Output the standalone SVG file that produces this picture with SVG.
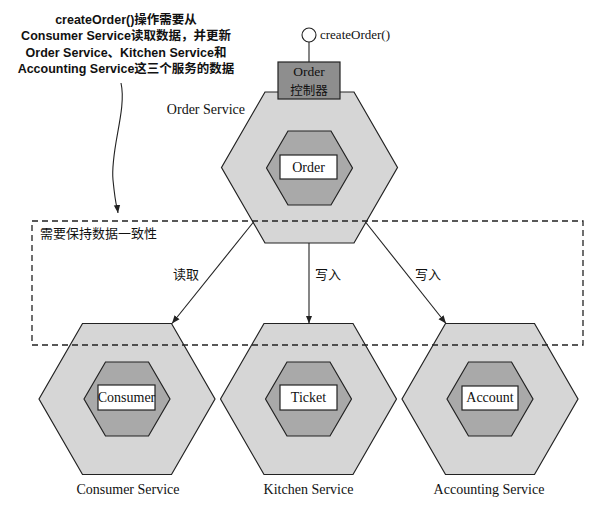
<svg xmlns="http://www.w3.org/2000/svg" xmlns:xlink="http://www.w3.org/1999/xlink" width="604" height="507" viewBox="0 0 604 507">
<style>
.outer{fill:#d6d6d6;stroke:#222;stroke-width:1.2}
.inner{fill:#a9a9a9;stroke:#222;stroke-width:1.2}
.box{fill:#fff;stroke:#222;stroke-width:1.2}
.ctrl{fill:#8e8e8e;stroke:#222;stroke-width:1.2}
.serif{font-family:"Liberation Serif","Noto Sans CJK SC",serif;fill:#111}
.cjk{font-family:"Noto Sans CJK SC",sans-serif;fill:#111}
.note{font-family:"Liberation Sans","Noto Sans CJK SC",sans-serif;font-weight:bold;font-size:12.5px;fill:#111}
.edge{fill:none;stroke:#222;stroke-width:1.1}
.dash{fill:none;stroke:#222;stroke-width:1.3;stroke-dasharray:6 4}
</style>
<defs>
<polygon id="hexO" points="-88,0 -44.5,-75.5 44.5,-75.5 88,0 44.5,75.5 -44.5,75.5"/>
<polygon id="hexI" points="-43,0 -21.5,-37 21.5,-37 43,0 21.5,37 -21.5,37"/>
<marker id="arr" viewBox="0 0 10 10" refX="10" refY="5" markerWidth="8" markerHeight="8" orient="auto" markerUnits="userSpaceOnUse">
<path d="M0,1 L10,5 L0,9 Z" fill="#222"/>
</marker>
</defs>
<rect width="604" height="507" fill="#fff"/>

<g id="note">
<text class="note" text-anchor="middle" x="126" y="24">createOrder()操作需要从</text>
<text class="note" text-anchor="middle" x="126" y="40">Consumer Service读取数据，并更新</text>
<text class="note" text-anchor="middle" x="126" y="57">Order Service、Kitchen Service和</text>
<text class="note" text-anchor="middle" x="126" y="73">Accounting Service这三个服务的数据</text>
</g>

<g id="order-service">
<use xlink:href="#hexO" class="outer" transform="translate(309.5,167.5)"/>
<use xlink:href="#hexI" class="inner" transform="translate(309.5,168)"/>
<rect class="box" x="280" y="155" width="57" height="24"/>
<text class="serif" font-size="14" text-anchor="middle" x="308.5" y="172">Order</text>
<text class="serif" font-size="14" text-anchor="end" x="245" y="114">Order Service</text>
</g>

<g id="order-controller">
<line x1="309" y1="42" x2="309" y2="62" stroke="#222" stroke-width="1.1"/>
<circle cx="309" cy="35" r="7" fill="#fff" stroke="#222" stroke-width="1.1"/>
<text class="serif" font-size="13" x="320" y="39">createOrder()</text>
<rect class="ctrl" x="278" y="62" width="62" height="37"/>
<text class="serif" font-size="13.5" text-anchor="middle" x="309" y="76">Order</text>
<text class="cjk" font-size="12.5" text-anchor="middle" x="309" y="95">控制器</text>
</g>

<g id="consumer-service">
<use xlink:href="#hexO" class="outer" transform="translate(127,399)"/>
<use xlink:href="#hexI" class="inner" transform="translate(127,399)"/>
<rect class="box" x="98" y="385" width="57" height="25"/>
<text class="serif" font-size="14" text-anchor="middle" x="126.5" y="402">Consumer</text>
<text class="serif" font-size="14" text-anchor="middle" x="128" y="494">Consumer Service</text>
</g>

<g id="kitchen-service">
<use xlink:href="#hexO" class="outer" transform="translate(308.5,399)"/>
<use xlink:href="#hexI" class="inner" transform="translate(308.5,399)"/>
<rect class="box" x="280" y="385" width="57" height="25"/>
<text class="serif" font-size="14" text-anchor="middle" x="308.5" y="402">Ticket</text>
<text class="serif" font-size="14" text-anchor="middle" x="308.5" y="494">Kitchen Service</text>
</g>

<g id="accounting-service">
<use xlink:href="#hexO" class="outer" transform="translate(490,399)"/>
<use xlink:href="#hexI" class="inner" transform="translate(490,399)"/>
<rect class="box" x="462" y="386" width="56" height="24"/>
<text class="serif" font-size="14" text-anchor="middle" x="490" y="402">Account</text>
<text class="serif" font-size="14" text-anchor="middle" x="489" y="494">Accounting Service</text>
</g>

<g id="consistency-boundary">
<rect class="dash" x="32" y="221" width="551" height="124"/>
<text class="cjk" font-size="13" x="40" y="238">需要保持数据一致性</text>
</g>

<g id="connectors">
<path class="edge" d="M121,83 C127,110 110,150 113,180 S117,205 118,213" marker-end="url(#arr)"/>
<line class="edge" x1="253.5" y1="222" x2="172" y2="323.5" marker-end="url(#arr)"/>
<line class="edge" x1="309" y1="243" x2="309" y2="323.5" marker-end="url(#arr)"/>
<line class="edge" x1="365.5" y1="222" x2="446" y2="323.5" marker-end="url(#arr)"/>
<text class="cjk" font-size="13" x="173" y="279">读取</text>
<text class="cjk" font-size="13" x="315" y="279">写入</text>
<text class="cjk" font-size="13" x="415" y="279">写入</text>
</g>
</svg>
